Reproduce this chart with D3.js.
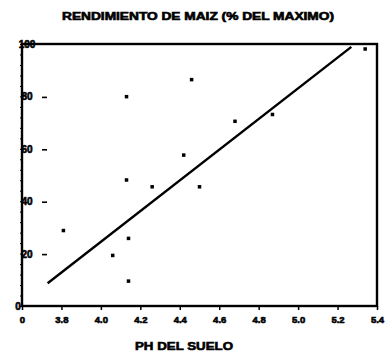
<!DOCTYPE html>
<html>
<head>
<meta charset="utf-8">
<script src="https://cdn.jsdelivr.net/npm/d3@7"></script>
<style>
  body { margin: 0; background: #fff; }
  text { font-family: "Liberation Sans", Arial, sans-serif; font-weight: bold; fill: #000; stroke: #000; stroke-width: 0.6px; }
</style>
</head>
<body>
<div id="chart"></div>
<script>
// pH del suelo vs rendimiento de maiz (% del maximo)
const phValues = [3.81, 4.06, 4.13, 4.46, 4.13, 4.26, 4.50, 4.42, 4.14, 4.14, 4.68, 4.87, 5.34];
const yieldValues = [28.8, 19.3, 79.9, 86.4, 48.1, 45.5, 45.5, 57.6, 25.8, 9.5, 70.5, 73.1, 98.1];
const fitX = [3.73, 5.27];
const fitY = [8.7, 98.9];
const xTicks = [3.6, 3.8, 4.0, 4.2, 4.4, 4.6, 4.8, 5.0, 5.2, 5.4];
const xTickLabels = ['0', '3.8', '4.0', '4.2', '4.4', '4.6', '4.8', '5.0', '5.2', '5.4'];
const yTicks = [0, 20, 40, 60, 80, 100];

const width = 387, height = 351;
const margin = { top: 44, right: 10, bottom: 45, left: 22 };

const svg = d3.select('#chart').append('svg')
  .attr('width', width)
  .attr('height', height);

const x = d3.scaleLinear().domain([3.6, 5.4]).range([margin.left, width - margin.right]);
const y = d3.scaleLinear().domain([0, 100]).range([height - margin.bottom, margin.top]);

// title
svg.append('text')
  .attr('x', 198).attr('y', 20)
  .attr('text-anchor', 'middle')
  .attr('font-size', 10)
  .attr('textLength', 272)
  .attr('lengthAdjust', 'spacingAndGlyphs')
  .text('RENDIMIENTO DE MAIZ (% DEL MAXIMO)');

// frame
svg.append('rect')
  .attr('x', x(3.6)).attr('y', y(100))
  .attr('width', x(5.4) - x(3.6))
  .attr('height', y(0) - y(100))
  .attr('fill', 'none')
  .attr('stroke', '#000')
  .attr('stroke-width', 2.4);

// x axis
const xAxis = svg.append('g')
  .attr('transform', `translate(0,${y(0)})`)
  .call(d3.axisBottom(x).tickValues(xTicks).tickSize(4).tickFormat((d, i) => xTickLabels[i]));
xAxis.select('.domain').remove();
xAxis.selectAll('line').attr('stroke-width', 1.5);
xAxis.selectAll('text').attr('font-size', 9.5).attr('dy', '1.1em')
  .style('font-family', '"Liberation Sans", Arial, sans-serif').style('font-weight', 'bold');

// y axis minor ticks
const yMinor = svg.append('g')
  .attr('transform', `translate(${x(3.6)},0)`)
  .call(d3.axisLeft(y).tickValues(d3.range(0, 101, 4)).tickSize(2).tickFormat(''));
yMinor.select('.domain').remove();

// y axis labels sitting on the axis
svg.append('g').selectAll('text')
  .data(yTicks)
  .join('text')
  .attr('x', d => d === 0 ? x(3.6) - 4 : x(3.6) + 5)
  .attr('y', d => y(d) + 4)
  .attr('text-anchor', 'middle')
  .attr('font-size', 10)
  .text(d => d);

// little dashes next to y labels
svg.append('g').selectAll('line')
  .data(yTicks.filter(d => d > 0 && d < 100))
  .join('line')
  .attr('x1', x(3.6) + 20).attr('x2', x(3.6) + 25)
  .attr('y1', d => y(d) + 1).attr('y2', d => y(d) + 1)
  .attr('stroke', '#000')
  .attr('stroke-width', 1.6);

// regression line
svg.append('line')
  .attr('x1', x(fitX[0])).attr('y1', y(fitY[0]))
  .attr('x2', x(fitX[1])).attr('y2', y(fitY[1]))
  .attr('stroke', '#000')
  .attr('stroke-width', 2.4);

// points
svg.append('g').selectAll('rect')
  .data(phValues.map((p, i) => [p, yieldValues[i]]))
  .join('rect')
  .attr('x', d => x(d[0]) - 1.75)
  .attr('y', d => y(d[1]) - 1.75)
  .attr('width', 3.5).attr('height', 3.5)
  .attr('fill', '#000');

// x title
svg.append('text')
  .attr('x', 184).attr('y', 350)
  .attr('text-anchor', 'middle')
  .attr('font-size', 11)
  .attr('textLength', 98)
  .attr('lengthAdjust', 'spacingAndGlyphs')
  .text('PH DEL SUELO');
</script>
</body>
</html>
